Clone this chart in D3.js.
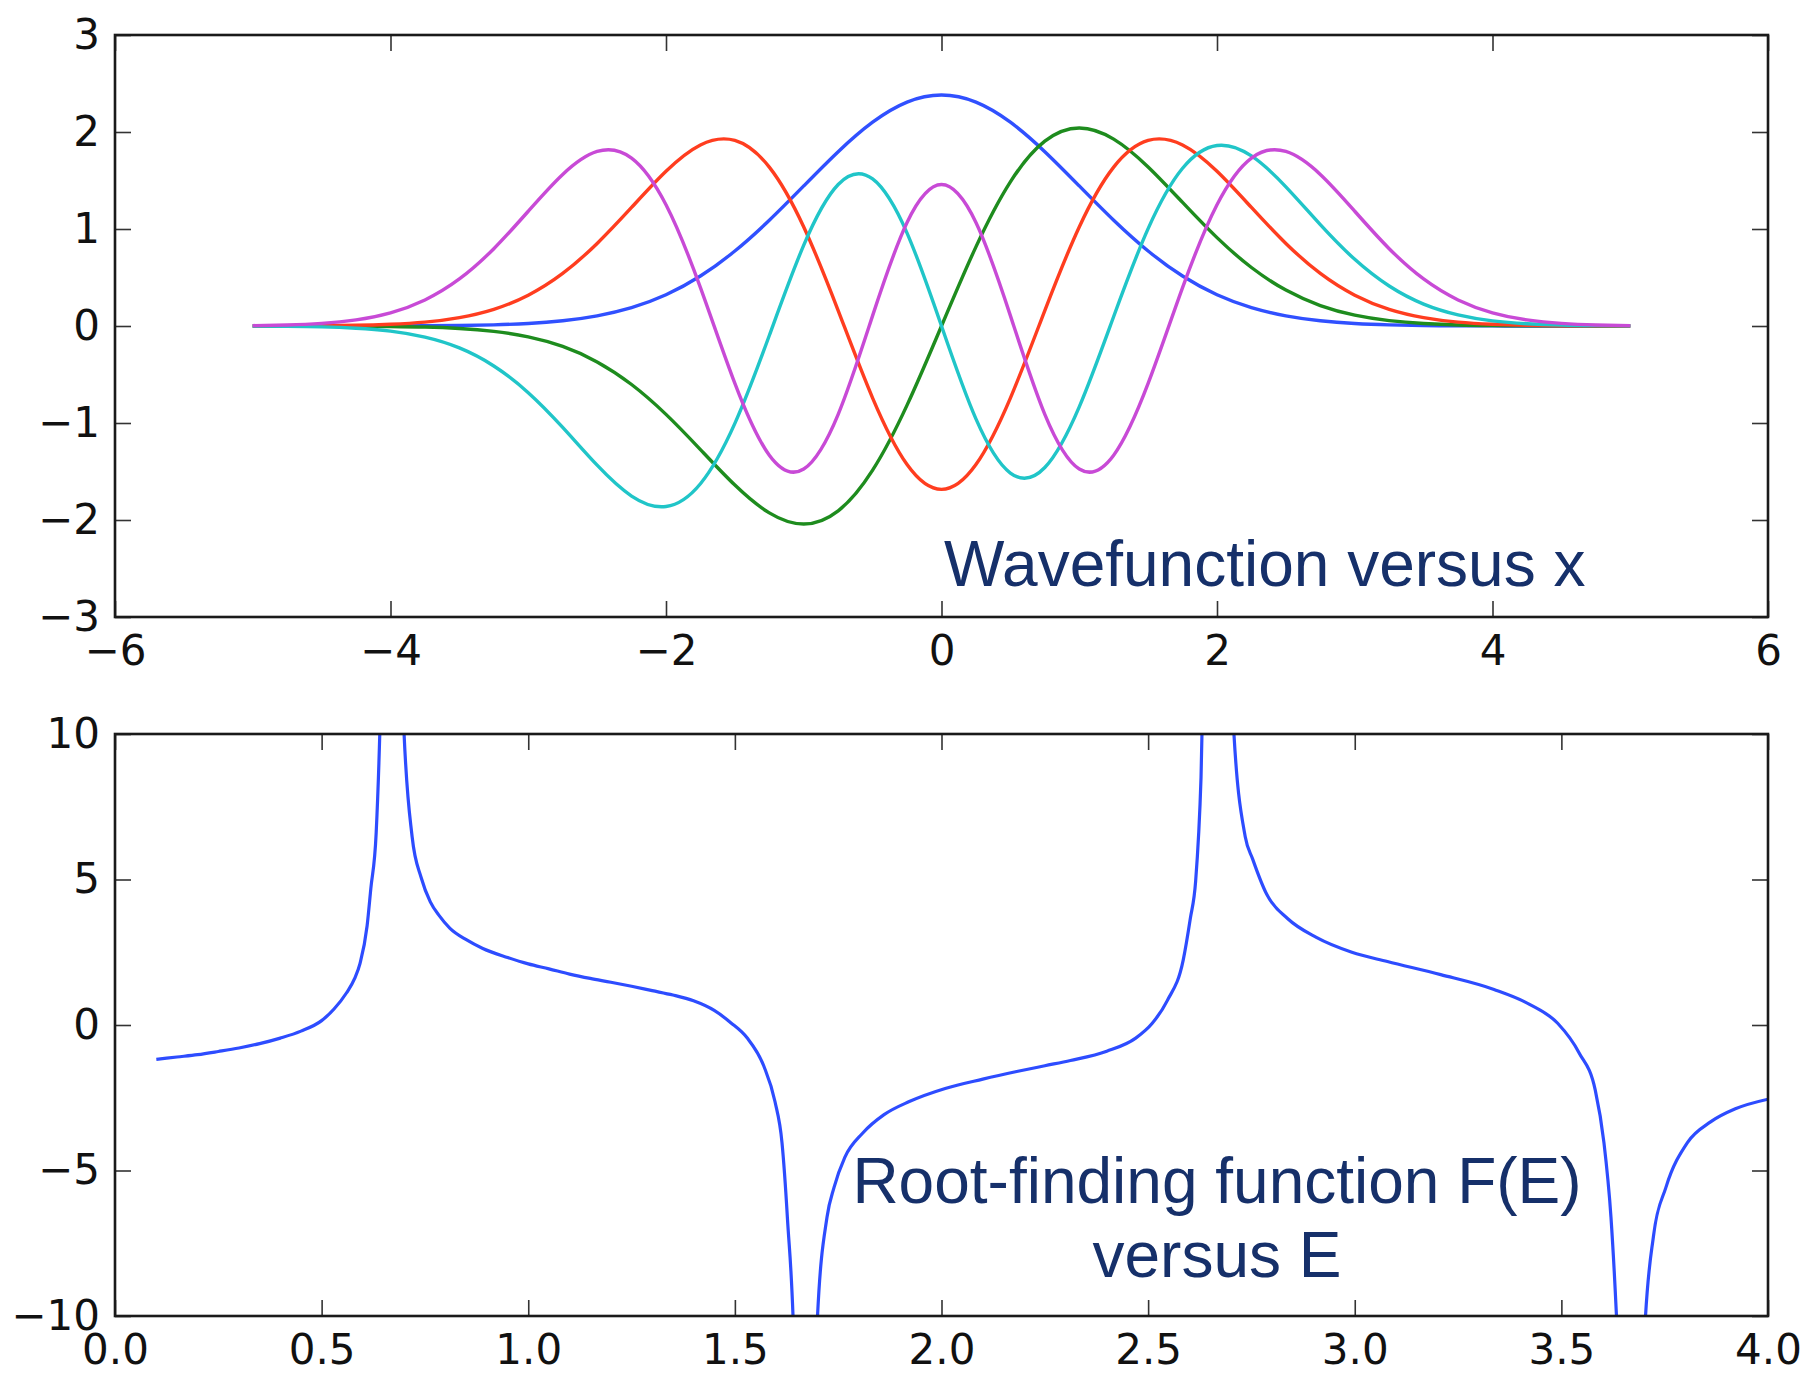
<!DOCTYPE html>
<html>
<head>
<meta charset="utf-8">
<script src="https://cdn.jsdelivr.net/npm/d3@7"></script>
<style>
  html, body { margin: 0; padding: 0; background: #fff; }
  svg { display: block; }
</style>
</head>
<body>
<svg id="chart" width="1809" height="1376"></svg>
<script>
// ---------- DATA ----------
const xGrid = [-5,-4.75,-4.5,-4.25,-4,-3.75,-3.5,-3.25,-3,-2.75,-2.5,-2.25,-2,-1.75,-1.5,-1.25,-1,-0.75,-0.5,-0.25,0,
               0.25,0.5,0.75,1,1.25,1.5,1.75,2,2.25,2.5,2.75,3,3.25,3.5,3.75,4,4.25,4.5,4.75,5];

const psi0 = [0,0,0,0,0.001,0.002,0.005,0.012,0.026,0.054,0.105,0.189,0.322,0.515,0.773,1.090,1.444,1.797,2.101,2.308,2.381,
              2.308,2.101,1.797,1.444,1.090,0.773,0.515,0.322,0.189,0.105,0.054,0.026,0.012,0.005,0.002,0.001,0,0,0,0];
const psi1 = [0,0,-0.001,-0.002,-0.005,-0.011,-0.026,-0.056,-0.112,-0.211,-0.370,-0.603,-0.911,-1.274,-1.640,-1.927,-2.042,-1.906,-1.486,-0.816,0,
              0.816,1.486,1.906,2.042,1.927,1.640,1.274,0.911,0.603,0.370,0.211,0.112,0.056,0.026,0.011,0.005,0.002,0.001,0,0];
const psi2 = [0,0.001,0.003,0.007,0.018,0.040,0.087,0.172,0.318,0.542,0.851,1.222,1.595,1.866,1.913,1.638,1.021,0.159,-0.743,-1.428,-1.684,
              -1.428,-0.743,0.159,1.021,1.638,1.913,1.866,1.595,1.222,0.851,0.542,0.318,0.172,0.087,0.040,0.018,0.007,0.003,0.001,0];
const psi3 = [-0.001,-0.004,-0.009,-0.023,-0.053,-0.115,-0.226,-0.412,-0.687,-1.045,-1.435,-1.753,-1.861,-1.626,-1.004,-0.098,0.834,1.459,1.516,0.958,0,
              -0.958,-1.516,-1.459,-0.834,0.098,1.004,1.626,1.861,1.753,1.435,1.045,0.687,0.412,0.226,0.115,0.053,0.023,0.009,0.004,0.001];
const psi4 = [0.004,0.011,0.027,0.063,0.136,0.269,0.485,0.797,1.183,1.562,1.799,1.731,1.250,0.396,-0.592,-1.332,-1.474,-0.911,0.107,1.067,1.458,
              1.067,0.107,-0.911,-1.474,-1.332,-0.592,0.396,1.250,1.731,1.799,1.562,1.183,0.797,0.485,0.269,0.136,0.063,0.027,0.011,0.004];
const waveSeries = [psi0, psi1, psi2, psi3, psi4];
const waveColors = ["#3050ff", "#1e8c1e", "#ff3d1f", "#20c5c8", "#c84ad6"];

const energy = [0.10,0.15,0.20,0.25,0.30,0.35,0.40,0.45,0.50,0.53,0.56,0.58,0.593,0.61,0.619,0.632,0.645,0.67,0.697,0.719,0.741,0.763,0.785,0.81,0.85,0.89,0.95,
  1.00,1.05,1.10,1.15,1.20,1.25,1.30,1.35,1.40,1.45,1.49,1.53,1.57,1.597,1.614,1.627,1.645,1.67,1.699,1.723,1.74,1.766,1.809,1.861,1.922,
  2.009,2.10,2.182,2.25,2.312,2.40,2.47,2.51,2.546,2.585,2.602,2.615,2.628,2.645,2.67,2.705,2.735,2.753,2.787,2.838,2.907,2.993,
  3.079,3.208,3.337,3.423,3.491,3.543,3.582,3.603,3.62,3.633,3.645,3.67,3.70,3.723,3.753,3.805,3.861,3.921,4.00];
const rootF = [-1.18,-1.10,-1.02,-0.91,-0.79,-0.64,-0.45,-0.21,0.15,0.55,1.10,1.60,2.12,3.4,4.68,6.6,12.5,40,10.9,6.47,5.06,4.23,3.75,3.33,2.93,2.63,2.32,
  2.10,1.93,1.75,1.60,1.47,1.33,1.18,1.03,0.83,0.50,0.08,-0.45,-1.41,-2.63,-4.04,-6.6,-12,-40,-10.3,-6.6,-5.58,-4.55,-3.72,-3.08,-2.63,
  -2.18,-1.86,-1.60,-1.40,-1.22,-0.90,-0.45,0.06,0.83,2.24,3.65,4.94,8.5,20,40,10.7,6.47,5.7,4.49,3.65,3.01,2.5,
  2.18,1.73,1.22,0.71,0.06,-0.96,-2.24,-4.04,-6.6,-9.9,-14,-40,-11,-7.24,-5.58,-4.04,-3.33,-2.88,-2.55];

const topXTicks = [-6,-4,-2,0,2,4,6];
const topYTicks = [-3,-2,-1,0,1,2,3];
const botXTicks = [0,0.5,1,1.5,2,2.5,3,3.5,4];
const botYTicks = [-10,-5,0,5,10];

const topLabel = "Wavefunction versus x";
const botLabel = ["Root-finding function F(E)", "versus E"];

// ---------- LAYOUT ----------
const svg = d3.select("#chart");
svg.append("rect").attr("width", 1809).attr("height", 1376).attr("fill", "#fff");

const L = 115, R = 1768;
const topBox = {t: 35, b: 617};
const botBox = {t: 734, b: 1316};
const tickLen = 16;
const tickFont = "'DejaVu Sans', sans-serif";

function drawAxes(g, x, y, box, xTicks, yTicks, xFmt, yFmt) {
  const styleAxis = sel => {
    sel.select(".domain").remove();
    sel.selectAll(".tick line").attr("stroke", "#333").attr("stroke-width", 1.6);
    sel.selectAll(".tick text").attr("fill", "#111").style("font-family", tickFont).style("font-size", "42px");
  };
  g.append("g").attr("transform", `translate(0,${box.b})`)
    .call(d3.axisBottom(x).tickValues(xTicks).tickFormat(xFmt).tickSizeInner(-tickLen).tickSizeOuter(0).tickPadding(18))
    .call(styleAxis);
  g.append("g").attr("transform", `translate(0,${box.t})`)
    .call(d3.axisTop(x).tickValues(xTicks).tickFormat("").tickSizeInner(-tickLen).tickSizeOuter(0))
    .call(styleAxis);
  g.append("g").attr("transform", `translate(${L},0)`)
    .call(d3.axisLeft(y).tickValues(yTicks).tickFormat(yFmt).tickSizeInner(-tickLen).tickSizeOuter(0).tickPadding(15))
    .call(styleAxis);
  g.append("g").attr("transform", `translate(${R},0)`)
    .call(d3.axisRight(y).tickValues(yTicks).tickFormat("").tickSizeInner(-tickLen).tickSizeOuter(0))
    .call(styleAxis);
  g.append("rect").attr("x", L).attr("y", box.t).attr("width", R - L).attr("height", box.b - box.t)
    .attr("fill", "none").attr("stroke", "#1a1a1a").attr("stroke-width", 2.6);
}

// ---------- TOP PANEL ----------
const xTop = d3.scaleLinear().domain([-6, 6]).range([L, R]);
const yTop = d3.scaleLinear().domain([-3, 3]).range([topBox.b, topBox.t]);
const gTop = svg.append("g");
const waveLine = d3.line().x((d, i) => xTop(xGrid[i])).y(d => yTop(d)).curve(d3.curveNatural);
gTop.selectAll("path.wave").data(waveSeries).join("path")
  .attr("class", "wave")
  .attr("d", d => waveLine(d))
  .attr("fill", "none")
  .attr("stroke", (d, i) => waveColors[i])
  .attr("stroke-width", 3.4)
  .attr("stroke-linejoin", "round");
drawAxes(gTop, xTop, yTop, topBox, topXTicks, topYTicks, d3.format("d"), d3.format("d"));
gTop.append("text").attr("x", 944).attr("y", 586)
  .style("font-family", "'Liberation Sans', Arial, sans-serif").style("font-size", "64px")
  .attr("fill", "#16306a").text(topLabel);

// ---------- BOTTOM PANEL ----------
const xBot = d3.scaleLinear().domain([0, 4]).range([L, R]);
const yBot = d3.scaleLinear().domain([-10, 10]).range([botBox.b, botBox.t]);
const gBot = svg.append("g");
svg.append("defs").append("clipPath").attr("id", "botClip")
  .append("rect").attr("x", L).attr("y", botBox.t).attr("width", R - L).attr("height", botBox.b - botBox.t);
const fLine = d3.line().x((d, i) => xBot(energy[i])).y(d => yBot(d)).curve(d3.curveMonotoneX);
gBot.append("path")
  .attr("d", fLine(rootF))
  .attr("clip-path", "url(#botClip)")
  .attr("fill", "none")
  .attr("stroke", "#2d4cff")
  .attr("stroke-width", 3.2)
  .attr("stroke-linejoin", "round");
drawAxes(gBot, xBot, yBot, botBox, botXTicks, botYTicks, d3.format(".1f"), d3.format("d"));
const bt = gBot.append("text")
  .style("font-family", "'Liberation Sans', Arial, sans-serif").style("font-size", "64px")
  .attr("fill", "#16306a").attr("text-anchor", "middle");
bt.append("tspan").attr("x", 1217).attr("y", 1203).text(botLabel[0]);
bt.append("tspan").attr("x", 1217).attr("y", 1277).text(botLabel[1]);
</script>
</body>
</html>
